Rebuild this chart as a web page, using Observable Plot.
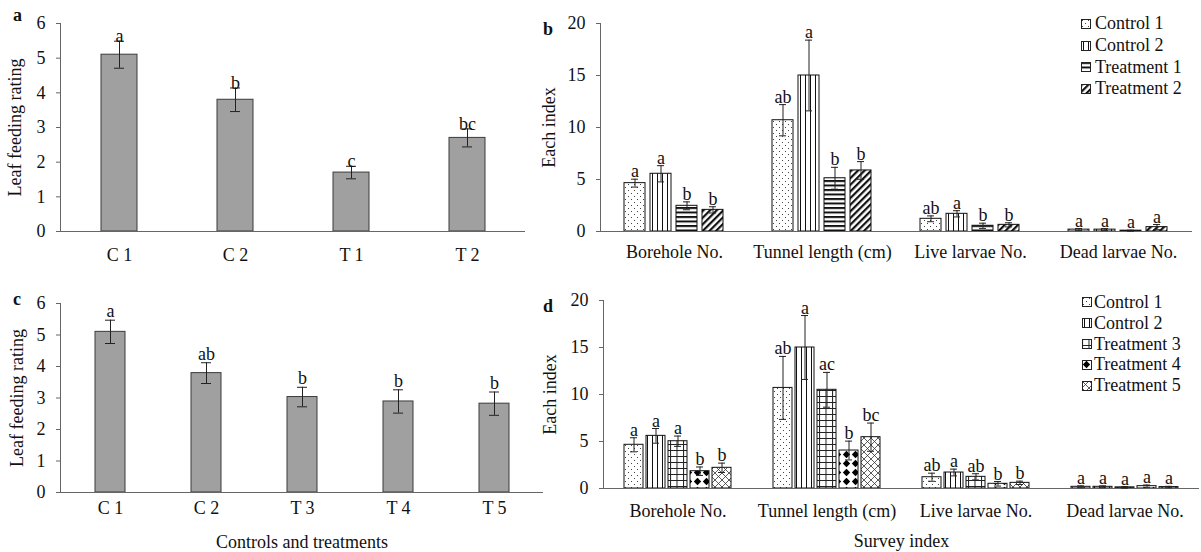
<!DOCTYPE html>
<html><head><meta charset="utf-8">
<script src="https://cdn.jsdelivr.net/npm/d3@7"></script>
<script src="https://cdn.jsdelivr.net/npm/@observablehq/plot@0.6"></script>
<style>
html,body{margin:0;padding:0;background:#fff;}
#wrap{position:relative;width:1201px;height:552px;overflow:hidden;font-family:"Liberation Serif","Times New Roman",serif;color:#111;}
.panel{position:absolute;}
.panel svg{overflow:visible;}
.legend{position:absolute;font-size:18px;}
.legend .row{display:flex;align-items:center;white-space:nowrap;}
.legend .row svg{flex:none;}
#letters{position:absolute;left:0;top:0;}
</style></head><body>
<svg width="0" height="0" style="position:absolute">
<defs>
<pattern id="pDots" patternUnits="userSpaceOnUse" width="6" height="6">
  <rect width="6" height="6" fill="#fff"/>
  <rect x="1" y="1" width="1" height="1" fill="#444"/>
  <rect x="4" y="4" width="1" height="1" fill="#444"/>
</pattern>
<pattern id="pVert" patternUnits="userSpaceOnUse" width="5" height="5">
  <rect width="5" height="5" fill="#fff"/>
  <rect x="2" y="0" width="1" height="5" fill="#111"/>
</pattern>
<pattern id="pHoriz" patternUnits="userSpaceOnUse" width="4.5" height="4.5">
  <rect width="4.5" height="4.5" fill="#fff"/>
  <rect x="0" y="0" width="4.5" height="2" fill="#111"/>
</pattern>
<pattern id="pDiag" patternUnits="userSpaceOnUse" width="4.7" height="10" patternTransform="rotate(45)">
  <rect width="4.7" height="10" fill="#fff"/>
  <rect x="0" y="0" width="2.2" height="10" fill="#111"/>
</pattern>
<pattern id="pGrid" patternUnits="userSpaceOnUse" width="6.5" height="6">
  <rect width="6.5" height="6" fill="#fff"/>
  <rect x="0" y="0" width="1" height="6" fill="#222"/>
  <rect x="0" y="0" width="6.5" height="1" fill="#222"/>
</pattern>
<pattern id="pDiamond" patternUnits="userSpaceOnUse" width="9" height="9">
  <rect width="9" height="9" fill="#fff"/>
  <polygon points="4.5,0.8 8.2,4.5 4.5,8.2 0.8,4.5" fill="#000"/>
</pattern>
<pattern id="pCross" patternUnits="userSpaceOnUse" width="7" height="7">
  <rect width="7" height="7" fill="#fff"/>
  <path d="M0,0L7,7M7,0L0,7" stroke="#333" stroke-width="0.8"/>
</pattern>
</defs>
</svg>
<div id="wrap"></div>
<script>
// ---------- data ----------
const ratingTicks = [0, 1, 2, 3, 4, 5, 6];
const indexTicks = [0, 5, 10, 15, 20];
const groups = ["Borehole No.", "Tunnel length (cm)", "Live larvae No.", "Dead larvae No."];

// panel a
const aCats = ["C 1", "C 2", "T 1", "T 2"];
const aMeans = [5.1, 3.8, 1.7, 2.7];
const aErrs = [0.39, 0.34, 0.18, 0.26];
const aLetters = ["a", "b", "c", "bc"];

// panel c
const cCats = ["C 1", "C 2", "T 3", "T 4", "T 5"];
const cMeans = [5.1, 3.79, 3.03, 2.89, 2.82];
const cErrs = [0.37, 0.33, 0.31, 0.37, 0.37];
const cLetters = ["a", "ab", "b", "b", "b"];

// panel b (rows: groups, columns: series)
const bSeries = ["Control 1", "Control 2", "Treatment 1", "Treatment 2"];
const bMeans = [
  [4.65, 5.55, 2.47, 2.08],
  [10.7, 15.0, 5.12, 5.87],
  [1.22, 1.7, 0.55, 0.64],
  [0.18, 0.18, 0.08, 0.42]
];
const bErrs = [
  [0.38, 0.78, 0.38, 0.3],
  [1.5, 3.4, 1.05, 0.85],
  [0.28, 0.3, 0.25, 0.2],
  [0.1, 0.1, 0.05, 0.25]
];
const bLetters = [
  ["a", "a", "b", "b"],
  ["ab", "a", "b", "b"],
  ["ab", "a", "b", "b"],
  ["a", "a", "a", "a"]
];

// panel d
const dSeries = ["Control 1", "Control 2", "Treatment 3", "Treatment 4", "Treatment 5"];
const dMeans = [
  [4.65, 5.6, 5.03, 1.84, 2.2],
  [10.7, 15.0, 10.5, 4.04, 5.46],
  [1.2, 1.7, 1.24, 0.5, 0.6],
  [0.18, 0.18, 0.12, 0.25, 0.15]
];
const dErrs = [
  [0.75, 0.78, 0.55, 0.45, 0.5],
  [3.35, 3.4, 1.85, 1.0, 1.5],
  [0.43, 0.36, 0.33, 0.24, 0.18],
  [0.1, 0.1, 0.08, 0.12, 0.08]
];
const dLetters = [
  ["a", "a", "a", "b", "b"],
  ["ab", "a", "ac", "b", "bc"],
  ["ab", "a", "ab", "b", "b"],
  ["a", "a", "a", "a", "a"]
];

const panelLetters = ["a", "b", "c", "d"];

// ---------- styling ----------
const patternOf = {
  "Control 1": "url(#pDots)",
  "Control 2": "url(#pVert)",
  "Treatment 1": "url(#pHoriz)",
  "Treatment 2": "url(#pDiag)",
  "Treatment 3": "url(#pGrid)",
  "Treatment 4": "url(#pDiamond)",
  "Treatment 5": "url(#pCross)"
};
const serif = "'Liberation Serif','Times New Roman',serif";
const baseStyle = {fontFamily: serif, fontSize: "18px", color: "#111", background: "transparent", overflow: "visible"};
const axisColor = "#666";
const intFormat = d => String(d);

function simplePanel(o) {
  const data = o.cats.map((c, i) => ({cat: c, mean: o.means[i], lo: o.means[i] - o.errs[i], hi: o.means[i] + o.errs[i], letter: o.letters[i]}));
  return Plot.plot({
    width: o.width, height: o.height,
    marginTop: o.mt, marginBottom: o.mb, marginLeft: o.ml, marginRight: o.mr,
    style: baseStyle,
    x: {domain: o.cats, paddingInner: 0.69, paddingOuter: 0.345},
    y: {domain: [0, 6]},
    marks: [
      Plot.frame({anchor: "left", stroke: axisColor}),
      Plot.axisY({ticks: ratingTicks, tickFormat: intFormat, tickSize: 4, tickPadding: 11, stroke: axisColor, label: o.yLabel, labelAnchor: "center", labelOffset: o.labelOffset, labelArrow: "none"}),
      Plot.axisX({tickSize: 0, tickPadding: o.xPad, label: o.xLabel, labelAnchor: "center", labelOffset: o.xLabelOffset, labelArrow: "none"}),
      Plot.barY(data, {x: "cat", y: "mean", fill: "#a0a0a0", stroke: "#3a3a3a", strokeWidth: 1}),
      Plot.ruleY([0], {stroke: axisColor}),
      Plot.ruleX(data, {x: "cat", y1: "lo", y2: "hi", stroke: "#222"}),
      Plot.tickY(data, {x: "cat", y: "hi", insetLeft: o.cap, insetRight: o.cap, stroke: "#222"}),
      Plot.tickY(data, {x: "cat", y: "lo", insetLeft: o.cap, insetRight: o.cap, stroke: "#222"}),
      Plot.text(data, {x: "cat", y: "hi", text: "letter", lineAnchor: "bottom", dy: o.letterDy, fontSize: 18})
    ]
  });
}

function groupedPanel(o) {
  const data = [];
  groups.forEach((g, gi) => o.series.forEach((s, si) => {
    const m = o.means[gi][si], e = o.errs[gi][si];
    data.push({group: g, series: s, mean: m, lo: Math.max(0, m - e), hi: m + e, letter: o.letters[gi][si]});
  }));
  return Plot.plot({
    width: o.width, height: o.height,
    marginTop: o.mt, marginBottom: o.mb, marginLeft: o.ml, marginRight: o.mr,
    style: baseStyle,
    fx: {domain: groups, padding: 0},
    x: {domain: o.series, paddingInner: o.pi, paddingOuter: o.po, axis: null},
    y: {domain: [0, 20]},
    color: {type: "identity"},
    marks: [
      Plot.frame({anchor: "left", facetAnchor: "left", stroke: axisColor}),
      Plot.axisY({ticks: indexTicks, tickFormat: intFormat, tickSize: 4, tickPadding: 11, stroke: axisColor, label: "Each index", labelAnchor: "center", labelOffset: o.labelOffset, labelArrow: "none"}),
      Plot.axisFx({anchor: "bottom", tickSize: 0, tickPadding: o.xPad, label: o.xLabel, labelAnchor: "center", labelOffset: o.xLabelOffset, labelArrow: "none"}),
      Plot.barY(data, {fx: "group", x: "series", y: "mean", fill: d => patternOf[d.series], stroke: "#111", strokeWidth: 1}),
      Plot.ruleY([0], {stroke: axisColor}),
      Plot.ruleX(data, {fx: "group", x: "series", y1: "lo", y2: "hi", stroke: "#222"}),
      Plot.tickY(data, {fx: "group", x: "series", y: "hi", insetLeft: o.cap, insetRight: o.cap, stroke: "#222"}),
      Plot.tickY(data, {fx: "group", x: "series", y: "lo", insetLeft: o.cap, insetRight: o.cap, stroke: "#222"}),
      Plot.text(data, {fx: "group", x: "series", y: "hi", text: "letter", lineAnchor: "bottom", dy: o.letterDy, fontSize: 18})
    ]
  });
}

function place(node, left, top) {
  const div = document.createElement("div");
  div.className = "panel";
  div.style.left = left + "px";
  div.style.top = top + "px";
  div.appendChild(node);
  wrap.appendChild(div);
}

function legend(series, left, top, rowH, gap) {
  const div = document.createElement("div");
  div.className = "legend";
  div.style.left = left + "px";
  div.style.top = top + "px";
  series.forEach(s => {
    const row = document.createElement("div");
    row.className = "row";
    row.style.height = rowH + "px";
    row.innerHTML = `<svg width="10" height="10" style="margin-right:${gap}px"><rect x="0.5" y="0.5" width="9" height="9" fill="${patternOf[s]}" stroke="#222" stroke-width="1"/></svg><span>${s}</span>`;
    div.appendChild(row);
  });
  wrap.appendChild(div);
}

const wrap = document.getElementById("wrap");

place(simplePanel({cats: aCats, means: aMeans, errs: aErrs, letters: aLetters, yLabel: "Leaf feeding rating", xLabel: null,
  width: 530, height: 270, mt: 23, mb: 39, ml: 60, mr: 5, xPad: 17, labelOffset: 52, xLabelOffset: 0, letterDy: 1, cap: 13}), 0, 0);

place(groupedPanel({series: bSeries, means: bMeans, errs: bErrs, letters: bLetters, xLabel: null,
  width: 661, height: 270, mt: 23, mb: 39, ml: 60, mr: 9, pi: 0.185, po: 0.84, xPad: 14, labelOffset: 58, xLabelOffset: 0, letterDy: -2, cap: 7}), 540, 0);

place(simplePanel({cats: cCats, means: cMeans, errs: cErrs, letters: cLetters, yLabel: "Leaf feeding rating", xLabel: "Controls and treatments",
  width: 550, height: 282, mt: 33, mb: 60, ml: 60, mr: 7, xPad: 8.5, labelOffset: 50, xLabelOffset: 55, letterDy: -3, cap: 10}), 0, 270);

place(groupedPanel({series: dSeries, means: dMeans, errs: dErrs, letters: dLetters, xLabel: "Survey index",
  width: 661, height: 282, mt: 30, mb: 64, ml: 63, mr: 2, pi: 0.156, po: 0.89, xPad: 16, labelOffset: 60, xLabelOffset: 58, letterDy: -2, cap: 6}), 540, 270);

legend(bSeries, 1081, 13, 21.7, 4);
legend(dSeries, 1082, 292, 20.8, 2);

// panel letters
const ns = "http://www.w3.org/2000/svg";
const lsvg = document.createElementNS(ns, "svg");
lsvg.setAttribute("id", "letters");
lsvg.setAttribute("width", 1201);
lsvg.setAttribute("height", 552);
const letterPos = [[13, 20.7], [543, 35], [13, 305], [543, 311.7]];
panelLetters.forEach((t, i) => {
  const el = document.createElementNS(ns, "text");
  el.setAttribute("x", letterPos[i][0]);
  el.setAttribute("y", letterPos[i][1]);
  el.setAttribute("font-family", serif);
  el.setAttribute("font-size", 18);
  el.setAttribute("font-weight", "bold");
  el.setAttribute("fill", "#111");
  el.textContent = t;
  lsvg.appendChild(el);
});
wrap.appendChild(lsvg);
</script>
</body></html>
